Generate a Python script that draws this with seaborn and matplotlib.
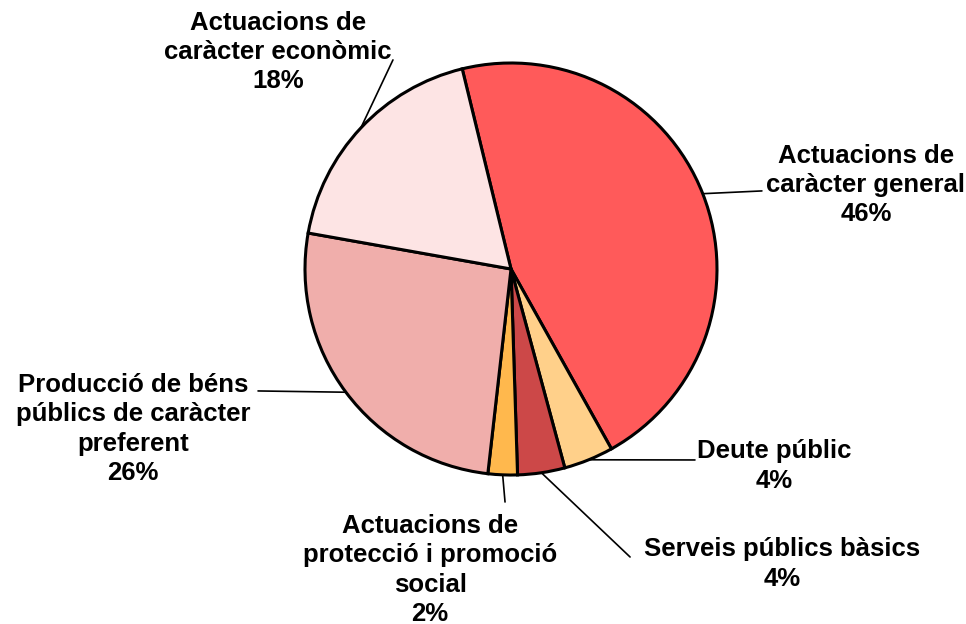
import numpy as np
import matplotlib
matplotlib.use("Agg")
import matplotlib.pyplot as plt
import seaborn as sns

# dades del gràfic (percentatge de la despesa per àrees)
categories = ["Actuacions de\ncaràcter general", "Deute públic", "Serveis públics bàsics",
              "Actuacions de\nprotecció i promoció\nsocial",
              "Producció de béns\npúblics de caràcter\npreferent",
              "Actuacions de\ncaràcter econòmic"]
values = [45.7, 3.9, 3.7, 2.3, 26.0, 18.4]
colors = ["#FF5A5A", "#FFD08A", "#CC4848", "#FFB84D", "#F0AEAB", "#FDE4E4"]

# posició de les etiquetes i final de les línies guia (coordenades de l'eix, radi = 1)
label_pos = [(1.723, 0.408), (1.277, -0.956), (1.316, -1.432),
             (-0.393, -1.461), (-1.835, -0.777), (-1.131, 1.053)]
line_end = [(1.218, 0.379), (0.893, -0.927), (0.578, -1.398),
            (-0.029, -1.131), (-1.228, -0.592), (-0.573, 1.015)]

sns.set_theme(style="white")
plt.rcParams['font.family'] = ['Liberation Sans', 'DejaVu Sans']

fig = plt.figure(figsize=(9.66, 6.24), dpi=100)
ax = fig.add_axes([0, 0, 1, 1])

start = 103.7
wedges, _ = ax.pie(values, colors=colors, startangle=start, counterclock=False,
                   radius=1.0, center=(0, 0),
                   wedgeprops=dict(edgecolor="black", linewidth=2.2))

total = sum(values)
for w, cat, val, (lx, ly), (ex, ey) in zip(wedges, categories, values, label_pos, line_end):
    mid = np.deg2rad((w.theta1 + w.theta2) / 2)
    sx, sy = np.cos(mid), np.sin(mid)
    ax.plot([sx, ex], [sy, ey], color="black", lw=1.2, zorder=0.5)
    ax.text(lx, ly, f"{cat}\n{round(val / total * 100):.0f}%", ha="center", va="center",
            fontsize=18.5, fontweight="bold", linespacing=1.28, color="black")

ax.set_xlim(-511 / 206, (966 - 511) / 206)
ax.set_ylim(-(624 - 269) / 206, 269 / 206)
ax.set_aspect("auto")
ax.axis("off")

fig.savefig("out.png", dpi=100, facecolor="white")
